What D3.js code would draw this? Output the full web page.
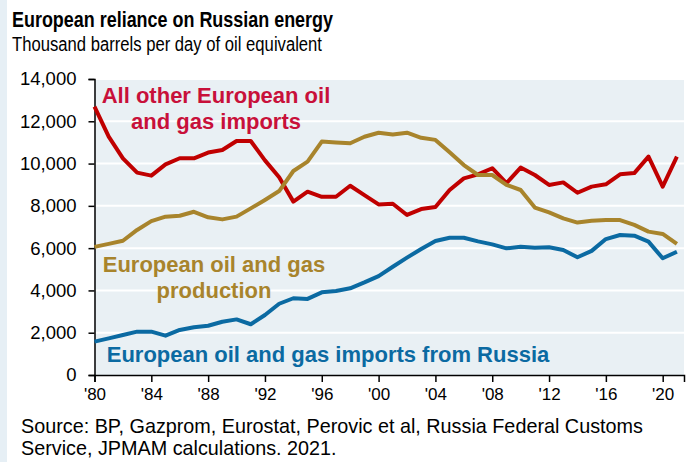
<!DOCTYPE html>
<html>
<head>
<meta charset="utf-8">
<script src="https://cdn.jsdelivr.net/npm/d3@7"></script>
<style>
  html, body { margin: 0; padding: 0; background: #ffffff; }
  svg { display: block; font-family: "Liberation Sans", Arial, sans-serif; }
</style>
</head>
<body>
<svg id="chart" width="687" height="462"></svg>
<script>
// Years 1980–2021, thousand barrels per day of oil equivalent
const years = d3.range(1980, 2022);

const otherImports = [12690, 11270, 10250, 9570, 9430, 9960, 10250, 10250, 10520, 10640,
  11070, 11070, 10150, 9350, 8200, 8670, 8430, 8430, 8950, 8510,
  8070, 8100, 7570, 7850, 7950, 8750, 9300, 9490, 9780, 9070,
  9810, 9460, 8990, 9110, 8620, 8910, 9020, 9490, 9550, 10330,
  8910, 10330];

const production = [6060, 6200, 6350, 6860, 7280, 7490, 7530, 7720, 7460, 7360,
  7490, 7880, 8280, 8700, 9650, 10090, 11040, 11000, 10960, 11270,
  11460, 11380, 11460, 11220, 11120, 10530, 9930, 9460, 9460, 8990,
  8750, 7920, 7690, 7410, 7210, 7300, 7330, 7330, 7100, 6780,
  6670, 6200];

const russiaImports = [1580, 1730, 1890, 2050, 2050, 1860, 2130, 2260, 2330, 2520,
  2630, 2400, 2840, 3370, 3630, 3600, 3910, 3970, 4100, 4380,
  4680, 5120, 5550, 5960, 6340, 6490, 6490, 6320, 6180, 5990,
  6070, 6020, 6040, 5910, 5570, 5870, 6430, 6620, 6590, 6310,
  5520, 5830];

const yTicks = [0, 2000, 4000, 6000, 8000, 10000, 12000, 14000];
const xTicks = [1980, 1984, 1988, 1992, 1996, 2000, 2004, 2008, 2012, 2016, 2020];

const series = [
  { name: "other", values: otherImports, color: "#c00000" },
  { name: "production", values: production, color: "#a8842c" },
  { name: "russia", values: russiaImports, color: "#0b6aa2" }
];

const svg = d3.select("#chart");
const W = 687, H = 462;
const plot = { left: 94.5, right: 684, top: 79, bottom: 375 };

// side strip
svg.append("rect").attr("x", 0).attr("y", 0).attr("width", 7).attr("height", H).attr("fill", "#e6eff5");

const x = d3.scaleLinear().domain([1980, 2021.5]).range([plot.left, plot.right]);
const y = d3.scaleLinear().domain([0, 14000]).range([plot.bottom, plot.top]);

// plot background
svg.append("rect")
  .attr("x", plot.left).attr("y", plot.top)
  .attr("width", plot.right - plot.left).attr("height", plot.bottom - plot.top)
  .attr("fill", "#e9f0f4");

// gridlines
svg.append("g").selectAll("line").data(yTicks.filter(d => d > 0)).join("line")
  .attr("x1", plot.left).attr("x2", plot.right)
  .attr("y1", d => y(d)).attr("y2", d => y(d))
  .attr("stroke", "#ffffff").attr("stroke-width", 2);

// title block (condensed to fit the header width)
svg.append("text").attr("x", 12).attr("y", 26.5)
  .attr("font-size", 22).attr("font-weight", "bold").attr("fill", "#000")
  .attr("textLength", 321).attr("lengthAdjust", "spacingAndGlyphs")
  .text("European reliance on Russian energy");
svg.append("text").attr("x", 12).attr("y", 50.5)
  .attr("font-size", 20).attr("fill", "#000")
  .attr("textLength", 310).attr("lengthAdjust", "spacingAndGlyphs")
  .text("Thousand barrels per day of oil equivalent");

// axes
const yAxis = d3.axisLeft(y).tickValues(yTicks).tickSize(6).tickPadding(12)
  .tickFormat(d3.format(","));
const gy = svg.append("g").attr("transform", `translate(${plot.left},0)`).call(yAxis);
gy.select(".domain").attr("stroke", "#000").attr("stroke-width", 1.5);
gy.selectAll(".tick line").attr("stroke", "#000").attr("stroke-width", 1.5);
gy.selectAll(".tick text").attr("font-size", 18.5).attr("font-family", "Liberation Sans, Arial, sans-serif").attr("fill", "#000");

const xAxis = d3.axisBottom(x).tickValues(xTicks).tickSize(7).tickPadding(6)
  .tickFormat(d => "'" + String(d).slice(2));
const gx = svg.append("g").attr("transform", `translate(0,${plot.bottom})`).call(xAxis);
gx.select(".domain").attr("stroke", "#000").attr("stroke-width", 1.5);
gx.selectAll(".tick line").attr("stroke", "#000").attr("stroke-width", 1.5);
gx.selectAll(".tick text").attr("font-size", 17).attr("font-family", "Liberation Sans, Arial, sans-serif").attr("fill", "#000");

// series lines
const line = d3.line().x((d, i) => x(years[i])).y(d => y(d));
svg.append("g").selectAll("path").data(series).join("path")
  .attr("d", d => line(d.values))
  .attr("fill", "none")
  .attr("stroke", d => d.color)
  .attr("stroke-width", 4)
  .attr("stroke-linejoin", "round");

// line labels
const labels = [
  { lines: ["All other European oil", "and gas imports"], x: 216, y: 103, color: "#c8103a" },
  { lines: ["European oil and gas", "production"], x: 214, y: 272, color: "#a8842c" },
  { lines: ["European oil and gas imports from Russia"], x: 328, y: 362, color: "#0b6aa2" }
];
labels.forEach(l => {
  const t = svg.append("text").attr("text-anchor", "middle")
    .attr("font-size", 22).attr("font-weight", "bold").attr("fill", l.color);
  l.lines.forEach((s, i) => t.append("tspan").attr("x", l.x).attr("y", l.y + i * 25.5).text(s));
});

// source note
const src = svg.append("text").attr("font-size", 19.8).attr("fill", "#000");
src.append("tspan").attr("x", 21).attr("y", 433)
  .text("Source: BP, Gazprom, Eurostat, Perovic et al, Russia Federal Customs");
src.append("tspan").attr("x", 21).attr("y", 455)
  .text("Service, JPMAM calculations. 2021.");
</script>
</body>
</html>
